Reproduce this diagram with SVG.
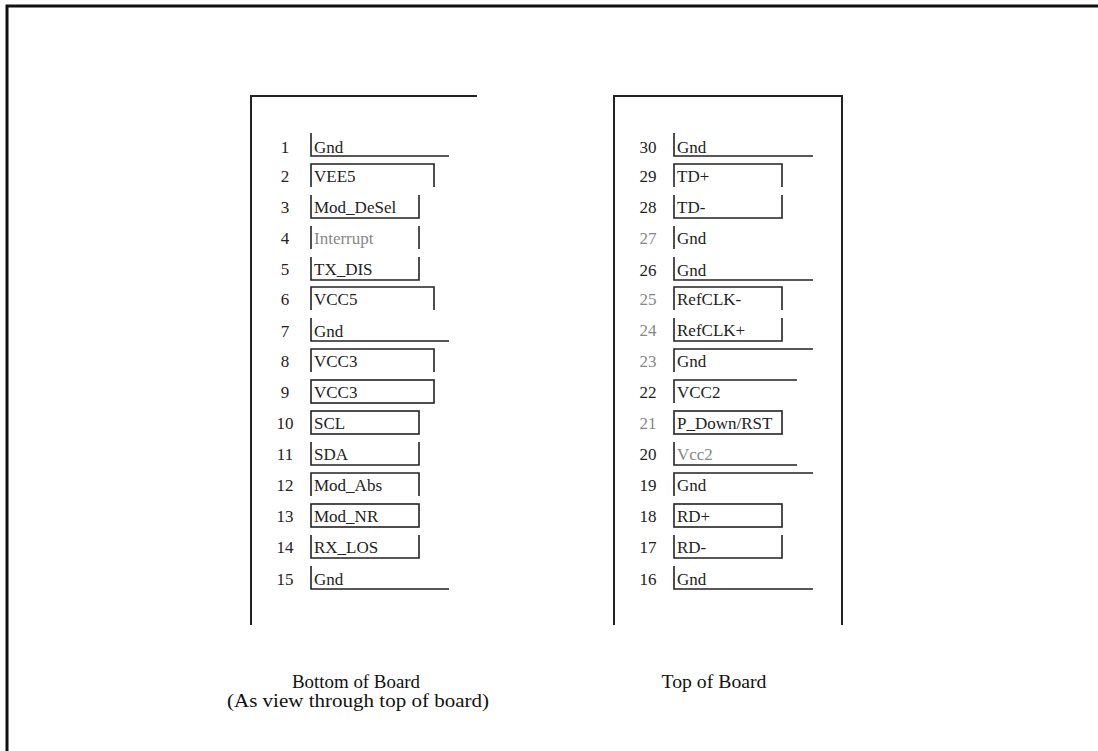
<svg xmlns="http://www.w3.org/2000/svg" width="1098" height="751" viewBox="0 0 1098 751">
<style>
  .frame{fill:none;stroke:#111;stroke-width:3}
  .board{fill:none;stroke:#222;stroke-width:2}
  .pin{fill:none;stroke:#222;stroke-width:1.6}
  .num{font-family:"Liberation Serif",serif;font-size:17px;fill:#222;text-anchor:middle}
  .lbl{font-family:"Liberation Serif",serif;font-size:17px;fill:#222}
  .faint{fill:#888}
  .cap{font-family:"Liberation Serif",serif;font-size:18px;fill:#111;text-anchor:middle}
</style>
<rect width="1098" height="751" fill="#fff"/>
<path class="frame" d="M7,751 V6 H1098"/>

<g id="board-bottom">
  <path class="board" d="M251,625 V96 H477"/>
</g>
<g id="board-top">
  <path class="board" d="M614,625 V96 H842 V625"/>
</g>

<g id="pins-left">
  <g id="pin1"><path class="pin" d="M311,133 V156 H449"/><text class="num" x="285" y="153">1</text><text class="lbl" x="314" y="153">Gnd</text></g>
  <g id="pin2"><path class="pin" d="M311,187 V164 H434 V187"/><text class="num" x="285" y="182">2</text><text class="lbl" x="314" y="182">VEE5</text></g>
  <g id="pin3"><path class="pin" d="M311,195 V218 H419 V195"/><text class="num" x="285" y="213">3</text><text class="lbl" x="314" y="213">Mod_DeSel</text></g>
  <g id="pin4"><path class="pin" stroke="#999" d="M311,226 V249"/><path class="pin" d="M419,226 V249"/><text class="num" x="285" y="244">4</text><text class="lbl faint" x="314" y="244">Interrupt</text></g>
  <g id="pin5"><path class="pin" d="M311,257 V280 H419 V257"/><text class="num" x="285" y="275">5</text><text class="lbl" x="314" y="275">TX_DIS</text></g>
  <g id="pin6"><path class="pin" d="M311,310 V287 H434 V310"/><text class="num" x="285" y="305">6</text><text class="lbl" x="314" y="305">VCC5</text></g>
  <g id="pin7"><path class="pin" d="M311,318 V341 H449"/><text class="num" x="285" y="337">7</text><text class="lbl" x="314" y="337">Gnd</text></g>
  <g id="pin8"><path class="pin" d="M311,372 V349 H434 V372"/><text class="num" x="285" y="367">8</text><text class="lbl" x="314" y="367">VCC3</text></g>
  <g id="pin9"><rect class="pin" x="311" y="380" width="123" height="23"/><text class="num" x="285" y="398">9</text><text class="lbl" x="314" y="398">VCC3</text></g>
  <g id="pin10"><rect class="pin" x="311" y="411" width="108" height="23"/><text class="num" x="285" y="429">10</text><text class="lbl" x="314" y="429">SCL</text></g>
  <g id="pin11"><path class="pin" d="M311,442 V465 H419 V442"/><text class="num" x="285" y="460">11</text><text class="lbl" x="314" y="460">SDA</text></g>
  <g id="pin12"><path class="pin" d="M311,496 V473 H419 V496"/><text class="num" x="285" y="491">12</text><text class="lbl" x="314" y="491">Mod_Abs</text></g>
  <g id="pin13"><rect class="pin" x="311" y="504" width="108" height="23"/><text class="num" x="285" y="522">13</text><text class="lbl" x="314" y="522">Mod_NR</text></g>
  <g id="pin14"><path class="pin" d="M311,535 V558 H419 V535"/><text class="num" x="285" y="553">14</text><text class="lbl" x="314" y="553">RX_LOS</text></g>
  <g id="pin15"><path class="pin" d="M311,566 V589 H449"/><text class="num" x="285" y="585">15</text><text class="lbl" x="314" y="585">Gnd</text></g>
</g>

<g id="pins-right">
  <g id="pin30"><path class="pin" d="M674,133 V156 H813"/><text class="num" x="648" y="153">30</text><text class="lbl" x="677" y="153">Gnd</text></g>
  <g id="pin29"><path class="pin" d="M674,187 V164 H782 V187"/><text class="num" x="648" y="182">29</text><text class="lbl" x="677" y="182">TD+</text></g>
  <g id="pin28"><path class="pin" d="M674,195 V218 H782 V195"/><text class="num" x="648" y="213">28</text><text class="lbl" x="677" y="213">TD-</text></g>
  <g id="pin27"><path class="pin" d="M674,226 V249"/><text class="num faint" x="648" y="244">27</text><text class="lbl" x="677" y="244">Gnd</text></g>
  <g id="pin26"><path class="pin" d="M674,257 V280 H813"/><text class="num" x="648" y="276">26</text><text class="lbl" x="677" y="276">Gnd</text></g>
  <g id="pin25"><path class="pin" d="M674,310 V287 H782 V310"/><text class="num faint" x="648" y="305">25</text><text class="lbl" x="677" y="305">RefCLK-</text></g>
  <g id="pin24"><path class="pin" d="M674,318 V341 H782 V318"/><text class="num faint" x="648" y="336">24</text><text class="lbl" x="677" y="336">RefCLK+</text></g>
  <g id="pin23"><path class="pin" d="M674,372 V349 H813"/><text class="num faint" x="648" y="367">23</text><text class="lbl" x="677" y="367">Gnd</text></g>
  <g id="pin22"><path class="pin" d="M674,403 V380 H797"/><text class="num" x="648" y="398">22</text><text class="lbl" x="677" y="398">VCC2</text></g>
  <g id="pin21"><rect class="pin" x="674" y="411" width="108" height="23"/><text class="num faint" x="648" y="429">21</text><text class="lbl" x="677" y="429">P_Down/RST</text></g>
  <g id="pin20"><path class="pin" d="M674,442 V465 H797"/><text class="num" x="648" y="460">20</text><text class="lbl faint" x="677" y="460">Vcc2</text></g>
  <g id="pin19"><path class="pin" d="M674,496 V473 H813"/><text class="num" x="648" y="491">19</text><text class="lbl" x="677" y="491">Gnd</text></g>
  <g id="pin18"><rect class="pin" x="674" y="504" width="108" height="23"/><text class="num" x="648" y="522">18</text><text class="lbl" x="677" y="522">RD+</text></g>
  <g id="pin17"><path class="pin" d="M674,535 V558 H782 V535"/><text class="num" x="648" y="553">17</text><text class="lbl" x="677" y="553">RD-</text></g>
  <g id="pin16"><path class="pin" d="M674,566 V589 H813"/><text class="num" x="648" y="585">16</text><text class="lbl" x="677" y="585">Gnd</text></g>
</g>

<g id="captions">
  <text class="cap" x="356" y="688" textLength="128" lengthAdjust="spacingAndGlyphs">Bottom of Board</text>
  <text class="cap" x="358" y="707" textLength="262" lengthAdjust="spacingAndGlyphs">(As view through top of board)</text>
  <text class="cap" x="714" y="688" textLength="105" lengthAdjust="spacingAndGlyphs">Top of Board</text>
</g>
</svg>
